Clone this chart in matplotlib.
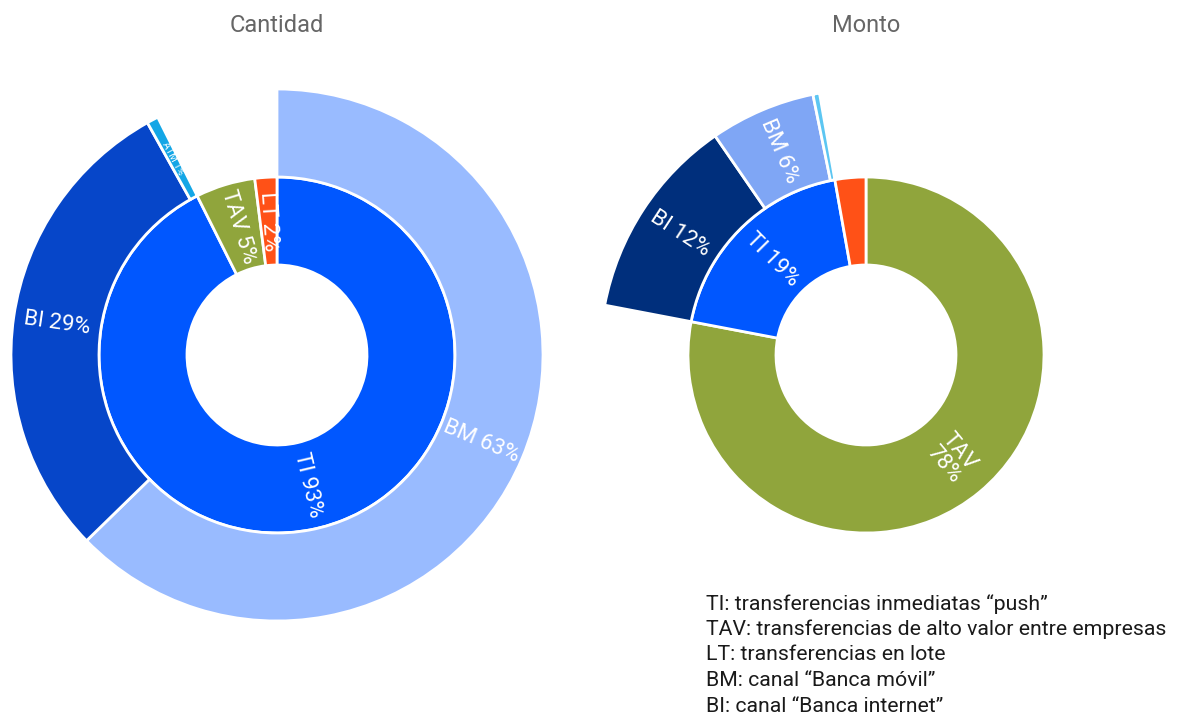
import numpy as np
import matplotlib
matplotlib.use("Agg")
import matplotlib.pyplot as plt
from matplotlib.patches import Wedge

# ---------------- data ----------------
cantidad_tipo = ["TI", "TAV", "LT"]
cantidad_tipo_vals = [92.6, 5.4, 2.0]
cantidad_tipo_labels = ["TI 93%", "TAV 5%", "LT 2%"]
cantidad_canal = ["BM", "BI", "ATM"]
cantidad_canal_vals = [62.7, 29.2, 0.7]
cantidad_canal_labels = ["BM 63%", "BI 29%", "ATM 1%"]

monto_tipo = ["TAV", "TI", "LT"]
monto_tipo_vals = [78.0, 19.2, 2.8]
monto_tipo_labels = ["TAV\n78%", "TI 19%", ""]
monto_canal = ["BI", "BM", "ATM"]
monto_canal_vals = [12.4, 6.4, 0.4]
monto_canal_labels = ["BI 12%", "BM 6%", ""]

titles = ["Cantidad", "Monto"]
notes = [
    "TI: transferencias inmediatas \u201cpush\u201d",
    "TAV: transferencias de alto valor entre empresas",
    "LT: transferencias en lote",
    "BM: canal \u201cBanca m\u00f3vil\u201d",
    "BI: canal \u201cBanca internet\u201d",
]

# ---------------- style ----------------
tipo_colors = {"TI": "#0057ff", "TAV": "#90a53c", "LT": "#ff5117"}
canal_colors_cant = {"BM": "#99bbff", "BI": "#0646c9", "ATM": "#13a6e6"}
canal_colors_monto = {"BI": "#002f7c", "BM": "#7fa6f5", "ATM": "#5cc6f2"}

W, H = 1182, 718
fig = plt.figure(figsize=(W / 100, H / 100), dpi=100)
ax = fig.add_axes([0, 0, 1, 1])
ax.set_xlim(0, W)
ax.set_ylim(0, H)
ax.set_aspect("equal")
ax.axis("off")

R0, R1, R2 = 90, 178, 266
FONT = "Roboto"
LFS = 16


def ring(center, names, vals, labels, colors, start_pct, r_in, r_out,
         fsizes=None, clip_labels=False):
    cx, cy = center
    cum = start_pct
    for i, (n, v, lab) in enumerate(zip(names, vals, labels)):
        t_start = cum * 3.6
        t_end = (cum + v) * 3.6
        # clockwise from top -> matplotlib angles
        w = Wedge((cx, cy), r_out, 90 - t_end, 90 - t_start, width=r_out - r_in,
                  facecolor=colors[n], edgecolor="white", linewidth=2)
        ax.add_patch(w)
        if lab:
            tm = (cum + v / 2) * 3.6
            phi = 90 - tm
            rm = (r_in + r_out) / 2
            x = cx + rm * np.cos(np.radians(phi))
            y = cy + rm * np.sin(np.radians(phi))
            rot = ((phi + 180) % 360) - 180
            if rot < -90:
                rot += 180
            elif rot > 90:
                rot -= 180
            fs = fsizes[i] if fsizes else LFS
            t = ax.text(x, y, lab, ha="center", va="center", rotation=rot,
                        rotation_mode="anchor", color="white", fontsize=fs,
                        family=FONT, linespacing=1.0)
            if clip_labels and n == "LT":
                t.set_clip_path(w)
        cum += v


# Cantidad
cL = (277, H - 355)
ring(cL, cantidad_tipo, cantidad_tipo_vals, cantidad_tipo_labels,
     tipo_colors, 0, R0, R1, clip_labels=True)
ring(cL, cantidad_canal, cantidad_canal_vals, cantidad_canal_labels,
     canal_colors_cant, 0, R1, R2, fsizes=[LFS, LFS, 7])

# Monto
cR = (866, H - 355)
ring(cR, monto_tipo, monto_tipo_vals, monto_tipo_labels,
     tipo_colors, 0, R0, R1)
ring(cR, monto_canal, monto_canal_vals, monto_canal_labels,
     canal_colors_monto, monto_tipo_vals[0], R1, R2)

# titles
for (cx, _), t in zip([cL, cR], titles):
    ax.text(cx, H - 25, t, ha="center", va="center", fontsize=17,
            color="#666666", family=FONT)

# notes
for i, line in enumerate(notes):
    ax.text(706, H - (604 + i * 25.5), line, ha="left", va="center",
            fontsize=15.3, color="#1a1a1a", family=FONT)

fig.savefig("out.png", dpi=100)
